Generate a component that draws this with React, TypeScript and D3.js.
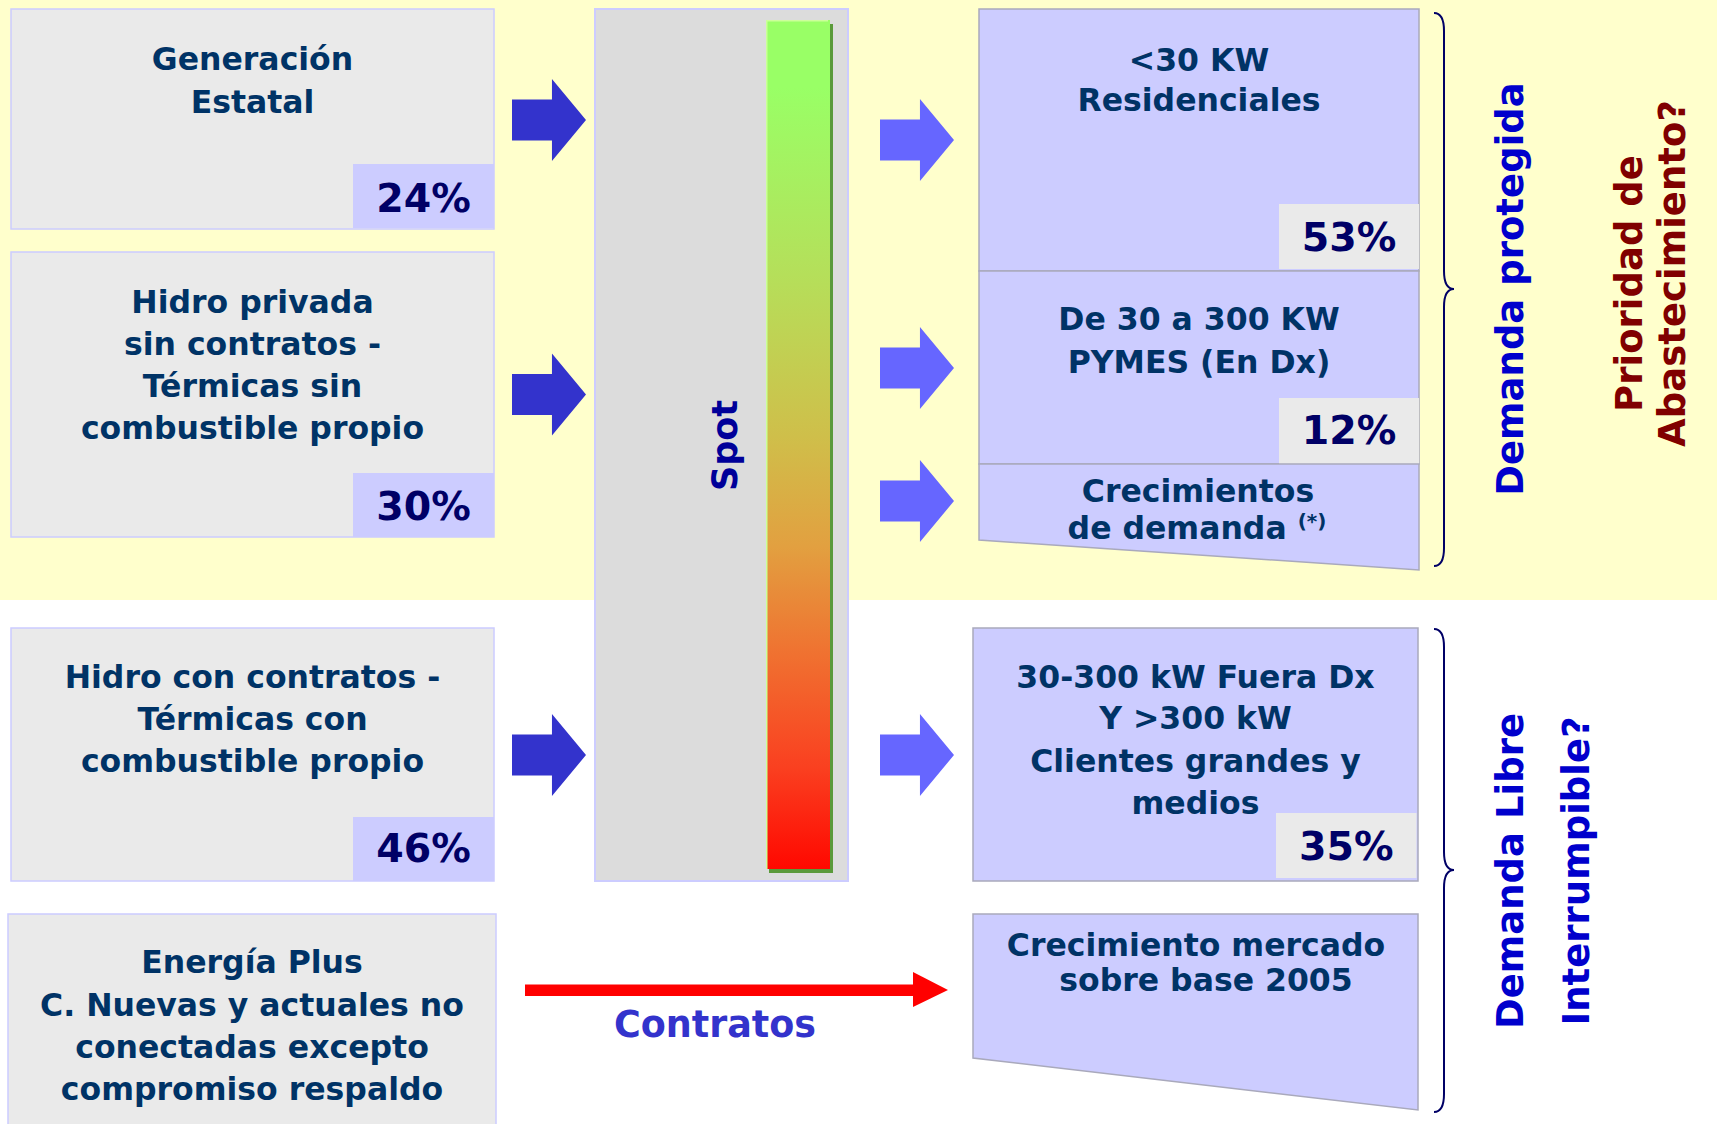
import React from "react";
import * as d3 from "d3";

// ---------- data ----------
const sourceLabels: string[][] = [
  ["Generación", "Estatal"],
  ["Hidro privada", "sin contratos -", "Térmicas sin", "combustible propio"],
  ["Hidro con contratos -", "Térmicas con", "combustible propio"],
  ["Energía Plus", "C. Nuevas y actuales no", "conectadas excepto", "compromiso respaldo"],
];
const sourceShares: (string | null)[] = ["24%", "30%", "46%", null];

const demandLabels: string[][] = [
  ["<30 KW", "Residenciales"],
  ["De 30 a 300 KW", "PYMES (En Dx)"],
  ["Crecimientos", "de demanda "],
  ["30-300 kW Fuera Dx", "Y >300 kW", "Clientes grandes y", "medios"],
  ["Crecimiento mercado", "sobre base 2005"],
];
const demandShares: (string | null)[] = ["53%", "12%", null, "35%", null];

const spotLabel = "Spot";
const contractLabel = "Contratos";
const groupLabels: string[][] = [
  ["Demanda protegida"],
  ["Demanda Libre", "Interrumpible?"],
];
const priorityLabel = ["Prioridad de", "Abastecimiento?"];

const gradientStops: [number, string][] = [
  [0, "#99FF66"], [0.08, "#99FF66"], [0.3, "#B5DF5A"], [0.49, "#CFBF4A"],
  [0.62, "#E2A040"], [0.75, "#F07030"], [0.88, "#FA4020"], [1, "#FF0800"],
];

// ---------- layout ----------
const W = 1717, H = 1124;
const FONT = "'DejaVu Sans', Verdana, sans-serif";
const TXT = "#003366";
const PCT = "#000066";

const srcLayout = [
  { x: 11, y: 9, w: 483, h: 220, base: [70, 112.5], pct: { y: 164, base: 212 } },
  { x: 11, y: 252, w: 483, h: 285, base: [312.5, 355, 397, 439], pct: { y: 473, base: 520 } },
  { x: 11, y: 628, w: 483, h: 253, base: [688, 730, 772], pct: { y: 817, base: 862 } },
  { x: 8, y: 914, w: 488, h: 230, base: [973, 1016, 1058, 1100], pct: null },
];
const srcPctX = 353, srcPctW = 141, srcPctH = 64;

const dmdLayout = [
  { poly: [[979, 9], [1419, 9], [1419, 271], [979, 271]], cx: [1199, 1199], base: [70.8, 111], pct: { x: 1279, y: 204, w: 140, h: 65, base: 251 } },
  { poly: [[979, 271], [1419, 271], [1419, 464], [979, 464]], cx: [1199, 1199], base: [330, 373], pct: { x: 1279, y: 398, w: 140, h: 66, base: 444 } },
  { poly: [[979, 464], [1419, 464], [1419, 570], [979, 540]], cx: [1198, 1197], base: [502, 539], pct: null },
  { poly: [[973, 628], [1418, 628], [1418, 881], [973, 881]], cx: [1195.5, 1195.5, 1195.5, 1195.5], base: [688, 729, 772, 814], pct: { x: 1276, y: 813, w: 140.5, h: 65, base: 860 } },
  { poly: [[973, 914], [1418, 914], [1418, 1110], [973, 1058]], cx: [1196, 1206], base: [956, 991], pct: null },
];

const leftArrowY = [120, 394.5, 755];
const rightArrowY = [140, 368, 501, 755];

function blockArrow(x0: number, cy: number) {
  const x = d3.scaleLinear().domain([0, 1]).range([x0, x0 + 74]);
  const pts: [number, number][] = [
    [x(0), cy - 20.5], [x(0.54), cy - 20.5], [x(0.54), cy - 41], [x(1), cy],
    [x(0.54), cy + 41], [x(0.54), cy + 20.5], [x(0), cy + 20.5],
  ];
  return d3.line()(pts) + "Z";
}

function brace(x0: number, y0: number, ym: number, y1: number) {
  const p = d3.path();
  const xm = x0 + 10, xt = x0 + 20;
  p.moveTo(x0, y0);
  p.quadraticCurveTo(xm, y0, xm, y0 + 18);
  p.lineTo(xm, ym - 18);
  p.quadraticCurveTo(xm, ym, xt, ym);
  p.quadraticCurveTo(xm, ym, xm, ym + 18);
  p.lineTo(xm, y1 - 18);
  p.quadraticCurveTo(xm, y1, x0, y1);
  return p.toString();
}

const polyLine = d3.line();

export default function App() {
  const bar = { x: 766, y: 20, w: 64, h: 849 };
  return (
    <svg
      width={W}
      height={H}
      viewBox={`0 0 ${W} ${H}`}
      style={{ position: "absolute", left: 0, top: 0, background: "#FFFFFF" }}
      fontFamily={FONT}
      fontWeight="bold"
    >
      <defs>
        <linearGradient id="spotGrad" x1="0" y1="0" x2="0" y2="1">
          {gradientStops.map(([o, c], i) => (
            <stop key={i} offset={o} stopColor={c} />
          ))}
        </linearGradient>
      </defs>
      <rect x={0} y={0} width={W} height={H} fill="#FFFFFF" />
      <rect x={0} y={0} width={W} height={600} fill="#FFFFCC" />

      {/* source boxes */}
      {sourceLabels.map((lines, i) => {
        const L = srcLayout[i];
        const cx = L.x + L.w / 2;
        return (
          <g key={"s" + i}>
            <rect x={L.x} y={L.y} width={L.w} height={L.h} fill="#EAEAEA" stroke="#CCCCFF" strokeWidth={1.5} />
            {L.pct && (
              <rect x={srcPctX} y={L.pct.y} width={srcPctW} height={srcPctH} fill="#CCCCFF" />
            )}
            {lines.map((t, j) => (
              <text key={j} x={cx} y={L.base[j]} textAnchor="middle" fontSize={31.5} fill={TXT}>
                {t}
              </text>
            ))}
            {L.pct && sourceShares[i] && (
              <text x={srcPctX + srcPctW / 2} y={L.pct.base} textAnchor="middle" fontSize={39.5} fill={PCT}>
                {sourceShares[i]}
              </text>
            )}
          </g>
        );
      })}

      {/* spot panel */}
      <rect x={595} y={9} width={253} height={872} fill="#DCDCDC" stroke="#CCCCFF" strokeWidth={2} />
      <rect x={bar.x + 3} y={bar.y + 4} width={bar.w} height={bar.h} fill="#5A9A3A" />
      <rect x={bar.x} y={bar.y} width={bar.w} height={bar.h} fill="url(#spotGrad)" />
      <line x1={bar.x + 0.75} y1={bar.y} x2={bar.x + 0.75} y2={bar.y + bar.h} stroke="#CCFF99" strokeWidth={1.5} />
      <line x1={bar.x} y1={bar.y + 0.75} x2={bar.x + bar.w - 2} y2={bar.y + 0.75} stroke="#CCFF99" strokeWidth={1.5} />
      <text transform="translate(737,445.5) rotate(-90)" textAnchor="middle" fontSize={35} fill="#000099">
        {spotLabel}
      </text>

      {/* arrows */}
      {leftArrowY.map((cy, i) => (
        <path key={"la" + i} d={blockArrow(512, cy)} fill="#3333CC" />
      ))}
      {rightArrowY.map((cy, i) => (
        <path key={"ra" + i} d={blockArrow(880, cy)} fill="#6666FF" />
      ))}

      {/* demand boxes */}
      {demandLabels.map((lines, i) => {
        const L = dmdLayout[i];
        return (
          <g key={"d" + i}>
            <path d={polyLine(L.poly as [number, number][]) + "Z"} fill="#CCCCFF" stroke="#A9A9BC" strokeWidth={1.5} />
            {L.pct && <rect x={L.pct.x} y={L.pct.y} width={L.pct.w} height={L.pct.h} fill="#EAEAEA" />}
            {lines.map((t, j) => (
              <text key={j} x={L.cx[j]} y={L.base[j]} textAnchor="middle" fontSize={31.5} fill={TXT} xmlSpace="preserve">
                {t}
                {i === 2 && j === 1 && (
                  <tspan fontSize={20} dy={-11}>(*)</tspan>
                )}
              </text>
            ))}
            {L.pct && demandShares[i] && (
              <text x={L.pct.x + L.pct.w / 2} y={L.pct.base} textAnchor="middle" fontSize={39.5} fill={PCT}>
                {demandShares[i]}
              </text>
            )}
          </g>
        );
      })}

      {/* contracts arrow */}
      <rect x={525} y={984.5} width={390} height={11.5} fill="#FF0000" />
      <path d={polyLine([[913, 972], [948, 990], [913, 1007]]) + "Z"} fill="#FF0000" />
      <text x={715} y={1037} textAnchor="middle" fontSize={36.5} fill="#3333CC">
        {contractLabel}
      </text>

      {/* braces */}
      <path d={brace(1434, 13, 289, 566)} fill="none" stroke="#000066" strokeWidth={2} />
      <path d={brace(1434, 629, 870, 1112)} fill="none" stroke="#000066" strokeWidth={2} />

      {/* group labels */}
      <text transform="translate(1522.5,289) rotate(-90)" textAnchor="middle" fontSize={37} fill="#0000CC">
        {groupLabels[0][0]}
      </text>
      <text transform="translate(1522.5,871) rotate(-90)" textAnchor="middle" fontSize={37} fill="#0000CC">
        {groupLabels[1][0]}
      </text>
      <text transform="translate(1589,871) rotate(-90)" textAnchor="middle" fontSize={37} fill="#0000CC">
        {groupLabels[1][1]}
      </text>
      <text transform="translate(1642,283.5) rotate(-90)" textAnchor="middle" fontSize={37} fill="#800000">
        {priorityLabel[0]}
      </text>
      <text transform="translate(1684.5,273.5) rotate(-90)" textAnchor="middle" fontSize={37} fill="#800000">
        {priorityLabel[1]}
      </text>
    </svg>
  );
}
